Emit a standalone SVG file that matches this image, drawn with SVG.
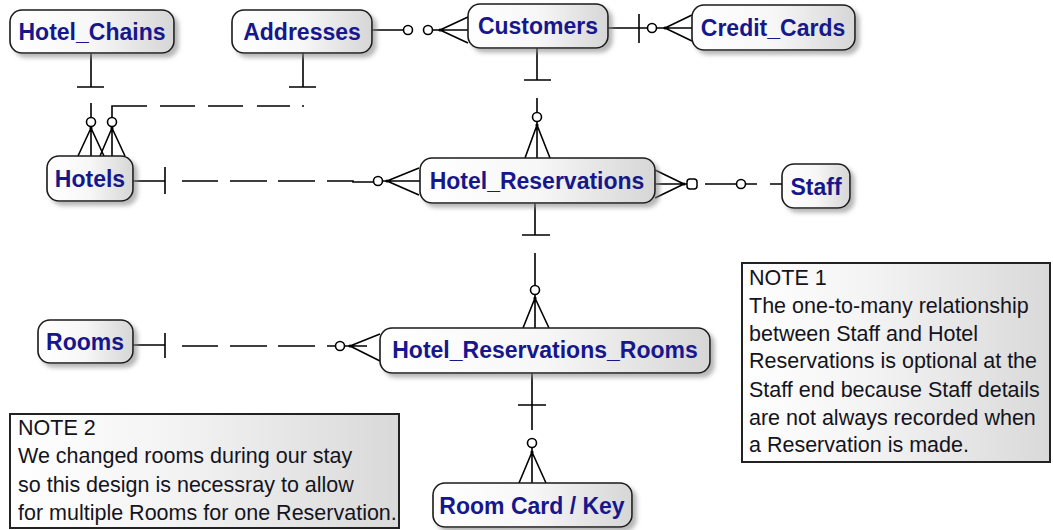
<svg xmlns="http://www.w3.org/2000/svg" width="1053" height="530" viewBox="0 0 1053 530">
<defs>
<linearGradient id="g" x1="0" y1="0" x2="1" y2="0">
<stop offset="0" stop-color="#ffffff"/>
<stop offset="0.5" stop-color="#f7f7f7"/>
<stop offset="1" stop-color="#d6d6d6"/>
</linearGradient>
<linearGradient id="gn" x1="0" y1="0" x2="1" y2="0">
<stop offset="0" stop-color="#ffffff"/>
<stop offset="0.4" stop-color="#f4f4f4"/>
<stop offset="1" stop-color="#d9d9d9"/>
</linearGradient>
<filter id="sh" x="-10%" y="-20%" width="130%" height="150%">
<feDropShadow dx="4" dy="4" stdDeviation="2" flood-color="#888" flood-opacity="0.6"/>
</filter>
</defs>
<style>
.ent rect{fill:url(#g);stroke:#1a1a1a;stroke-width:1.6;filter:url(#sh)}
.ent text{font-family:"Liberation Sans",Arial,sans-serif;font-weight:bold;font-size:23px;fill:#17178c;text-anchor:middle}
.note rect{fill:url(#gn);stroke:#222;stroke-width:2}
.note text{font-family:"Liberation Sans",Arial,sans-serif;font-size:21.5px;fill:#141420}
#connectors path,#connectors line{stroke:#000;stroke-width:1.6;fill:none}
#connectors circle.o{stroke:#000;stroke-width:1.6;fill:#fff}
#connectors circle.d{fill:#000}
</style>
<rect width="1053" height="530" fill="#fff"/>

<g id="connectors">
<!-- Hotel_Chains -> Hotels -->
<path d="M91,53 V87 M77,87 H104 M91,103 V118 M91,126 V156 M91,128 L78,156 M91,128 L104,156"/>
<circle class="o" cx="91" cy="122" r="4.5"/>
<circle class="d" cx="91" cy="128" r="1.6"/>
<!-- Addresses -> Hotels -->
<path d="M303,53 V87 M289,87 H316 M290,106 H257 M243,106 H208 M195,106 H160 M147,106 H112 V118 M112,126 V156 M112,128 L100,156 M112,128 L125,156"/>
<circle class="d" cx="303" cy="106" r="1"/>
<circle class="o" cx="112" cy="122" r="4.5"/>
<circle class="d" cx="112" cy="128" r="1.6"/>
<!-- Addresses -> Customers -->
<path d="M372,30 H404 M432,30 H468 M440,30 L468,17 M440,30 L468,43"/>
<circle class="o" cx="408" cy="30" r="4.5"/>
<circle class="o" cx="428" cy="30" r="4.5"/>
<circle class="d" cx="440" cy="30" r="1.6"/>
<!-- Customers -> Credit_Cards -->
<path d="M608,28 H648 M639,14 V43 M656,28 H692 M665,28 L692,15 M665,28 L692,41"/>
<circle class="o" cx="652" cy="28" r="4.5"/>
<circle class="d" cx="665" cy="28" r="1.6"/>
<!-- Customers -> Hotel_Reservations -->
<path d="M537,48 V80 M524,80 H551 M537,98 V113 M537,121 V158 M537,125 L525,158 M537,125 L550,158"/>
<circle class="o" cx="537" cy="117" r="4.5"/>
<circle class="d" cx="537" cy="125" r="1.6"/>
<!-- Hotels -> Hotel_Reservations -->
<path d="M133,181 H165 M165,167 V194 M182,181 H218 M230,181 H267 M278,181 H315 M327,181 H353 V182 H374 M382,181 H420 M387,181 L419,168 M387,181 L419,195"/>
<circle class="o" cx="378" cy="181" r="4.5"/>
<circle class="d" cx="387" cy="181" r="1.6"/>
<!-- Hotel_Reservations -> Staff -->
<path d="M655,184 H687 M655,170 L684,184 M655,198 L684,184 M705,184 H737 M745,184 H757 M770,184 H782"/>
<rect x="687" y="179" width="10" height="10" rx="3" fill="#fff" stroke="#000" stroke-width="1.5"/>
<circle class="d" cx="684" cy="184" r="1.6"/>
<circle class="o" cx="741" cy="184" r="4.5"/>
<!-- Hotel_Reservations -> Hotel_Reservations_Rooms -->
<path d="M535,203 V235 M522,235 H550 M535,253 V286 M535,294 V328 M535,298 L523,328 M535,298 L549,328"/>
<circle class="o" cx="535" cy="290" r="4.5"/>
<circle class="d" cx="535" cy="298" r="1.6"/>
<!-- Rooms -> Hotel_Reservations_Rooms -->
<path d="M133,345 H165 M165,333 V358 M182,346 H218 M230,346 H267 M278,346 H315 M327,346 H336 M344,346 H367 M350,346 L380,334 M350,346 L380,361"/>
<circle class="o" cx="340" cy="346" r="4.5"/>
<circle class="d" cx="350" cy="346" r="1.6"/>
<!-- Hotel_Reservations_Rooms -> Room Card / Key -->
<path d="M532,373 V430 M518,405 H546 M532,447 V483 M532,452 L519,483 M532,452 L546,483"/>
<circle class="o" cx="532" cy="443" r="4.5"/>
<circle class="d" cx="532" cy="452" r="1.6"/>
</g>

<g id="hotel_chains" class="ent"><rect x="10" y="10" width="164" height="43" rx="12"/><text x="92" y="40">Hotel_Chains</text></g>
<g id="addresses" class="ent"><rect x="232" y="10" width="140" height="43" rx="12"/><text x="302" y="40">Addresses</text></g>
<g id="customers" class="ent"><rect x="468" y="4" width="140" height="44" rx="12"/><text x="538" y="34">Customers</text></g>
<g id="credit_cards" class="ent"><rect x="692" y="5" width="163" height="45" rx="12"/><text x="773" y="36">Credit_Cards</text></g>
<g id="hotels" class="ent"><rect x="47" y="156" width="86" height="45" rx="12"/><text x="90" y="187">Hotels</text></g>
<g id="hotel_reservations" class="ent"><rect x="420" y="158" width="235" height="45" rx="12"/><text x="537" y="189">Hotel_Reservations</text></g>
<g id="staff" class="ent"><rect x="782" y="164" width="68" height="44" rx="12"/><text x="816" y="195">Staff</text></g>
<g id="rooms" class="ent"><rect x="38" y="320" width="95" height="43" rx="12"/><text x="85" y="350">Rooms</text></g>
<g id="hotel_reservations_rooms" class="ent"><rect x="380" y="328" width="330" height="45" rx="12"/><text x="545" y="358">Hotel_Reservations_Rooms</text></g>
<g id="room_card_key" class="ent"><rect x="433" y="483" width="199" height="44" rx="12"/><text x="532" y="514">Room Card / Key</text></g>

<g id="note1" class="note">
<rect x="742" y="263" width="308" height="199"/>
<text x="749" y="285">NOTE 1</text>
<text x="749" y="313">The one-to-many relationship</text>
<text x="749" y="341">between Staff and Hotel</text>
<text x="749" y="368">Reservations is optional at the</text>
<text x="749" y="397">Staff end because Staff details</text>
<text x="749" y="425">are not always recorded when</text>
<text x="749" y="452">a Reservation is made.</text>
</g>
<g id="note2" class="note">
<rect x="10" y="414" width="389" height="114"/>
<text x="18" y="435">NOTE 2</text>
<text x="18" y="463">We changed rooms during our stay</text>
<text x="18" y="492">so this design is necessray to allow</text>
<text x="18" y="520">for multiple Rooms for one Reservation.</text>
</g>
</svg>
